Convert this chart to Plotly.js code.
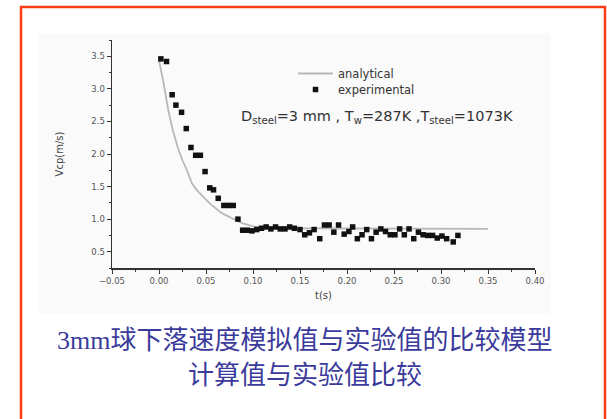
<!DOCTYPE html>
<html>
<head>
<meta charset="utf-8">
<script src="https://cdn.plot.ly/plotly-3.0.1.min.js"></script>
<style>
html,body{margin:0;padding:0;background:#fff;}
#chart{width:607px;height:419px;}
</style>
</head>
<body>
<div id="chart"></div>
<script>
// Analytical model curve
const anaT = [0, 0.005, 0.010, 0.015, 0.020, 0.025, 0.030, 0.035, 0.040, 0.045, 0.050, 0.055, 0.060, 0.065, 0.070, 0.075, 0.080, 0.085, 0.090, 0.095, 0.100, 0.110, 0.120, 0.350];
const anaV = [3.44, 3.08, 2.66, 2.35, 2.10, 1.90, 1.74, 1.55, 1.45, 1.37, 1.30, 1.23, 1.17, 1.11, 1.07, 1.03, 0.99, 0.96, 0.93, 0.91, 0.89, 0.87, 0.86, 0.85];

// Experimental points
const expT = [0.002, 0.008, 0.014, 0.018, 0.024, 0.029, 0.034, 0.039, 0.044, 0.049, 0.054, 0.058, 0.063, 0.069, 0.074, 0.079, 0.084, 0.089, 0.094, 0.099, 0.104, 0.109, 0.114, 0.119, 0.124, 0.129, 0.134, 0.139, 0.144, 0.150, 0.155, 0.160, 0.165, 0.171, 0.176, 0.181, 0.186, 0.191, 0.197, 0.202, 0.206, 0.211, 0.216, 0.221, 0.226, 0.231, 0.236, 0.241, 0.246, 0.251, 0.256, 0.261, 0.266, 0.271, 0.276, 0.281, 0.286, 0.291, 0.296, 0.301, 0.306, 0.313, 0.318];
const expV = [3.46, 3.42, 2.91, 2.75, 2.64, 2.39, 2.10, 1.98, 1.98, 1.73, 1.48, 1.45, 1.32, 1.21, 1.21, 1.21, 1.00, 0.83, 0.83, 0.82, 0.84, 0.86, 0.88, 0.85, 0.88, 0.85, 0.85, 0.88, 0.86, 0.84, 0.76, 0.79, 0.84, 0.70, 0.91, 0.91, 0.80, 0.91, 0.77, 0.81, 0.88, 0.70, 0.76, 0.84, 0.70, 0.80, 0.85, 0.81, 0.76, 0.76, 0.85, 0.76, 0.85, 0.70, 0.80, 0.76, 0.75, 0.75, 0.71, 0.74, 0.70, 0.65, 0.75];

const seriesNames = ['analytical', 'experimental'];
const xTitle = 't(s)';
const yTitle = 'Vcp(m/s)';
const paramText = 'D<sub>steel</sub>=3 mm , T<sub>w</sub>=287K ,T<sub>steel</sub>=1073K';
const caption1 = '3mm球下落速度模拟值与实验值的比较模型';
const caption2 = '计算值与实验值比较';

// plot area in pixels: x 112..535, y 40..268
const L = 112, R = 535, T = 40, B = 268, W = 607, H = 419;
const px = x => (x - L) / (R - L);
const py = y => (B - y) / (B - T);

const sans = 'DejaVu Sans, Verdana, sans-serif';
const tickFont = {family: sans, size: 8.5, color: '#555'};
const legFont = {family: sans, size: 11.5, color: '#333'};

const traces = [
  {x: anaT, y: anaV, name: seriesNames[0], type: 'scatter', mode: 'lines', legend: 'legend',
   line: {color: '#b8b8b8', width: 1.8}},
  {x: expT, y: expV, name: seriesNames[1], type: 'scatter', mode: 'markers', legend: 'legend2',
   marker: {symbol: 'square', size: 5.5, color: '#111'}}
];

const layout = {
  width: W, height: H,
  margin: {l: L, r: W - R, t: T, b: H - B},
  paper_bgcolor: '#ffffff',
  plot_bgcolor: 'rgba(0,0,0,0)',
  showlegend: true,
  legend: {x: px(293), y: py(59), xanchor: 'left', yanchor: 'top',
    bgcolor: 'rgba(0,0,0,0)', itemwidth: 35, font: legFont},
  legend2: {x: px(293), y: py(75), xanchor: 'left', yanchor: 'top',
    bgcolor: 'rgba(0,0,0,0)', itemwidth: 35, font: legFont},
  xaxis: {range: [-0.05, 0.40], dtick: 0.05, tick0: 0, tickformat: '.2f',
    showline: true, linecolor: '#333', linewidth: 1.5, mirror: false,
    showgrid: false, zeroline: false,
    ticks: 'outside', ticklen: 4, tickwidth: 1, tickcolor: '#333',
    minor: {dtick: 0.025, ticks: 'outside', ticklen: 2, tickcolor: '#333', showgrid: false},
    tickfont: tickFont,
    title: {text: xTitle, standoff: 7, font: {family: sans, size: 10, color: '#444'}}},
  yaxis: {range: [0.25, 3.75], dtick: 0.5, tick0: 0.5, tickformat: '.1f',
    showline: true, linecolor: '#333', linewidth: 1.5, mirror: false,
    showgrid: false, zeroline: false,
    ticks: 'outside', ticklen: 4, tickwidth: 1, tickcolor: '#333',
    minor: {dtick: 0.25, ticks: 'outside', ticklen: 2, tickcolor: '#333', showgrid: false},
    tickfont: tickFont,
    title: {text: yTitle, standoff: 26, font: {family: sans, size: 10, color: '#444'}}},
  shapes: [
    {type: 'rect', xref: 'paper', yref: 'paper', layer: 'below',
     x0: px(39), x1: px(551), y0: py(313), y1: py(33),
     fillcolor: '#fafafa', line: {width: 0}},
    {type: 'rect', xref: 'paper', yref: 'paper', layer: 'above',
     x0: px(21), x1: px(605), y0: py(430), y1: py(7),
     fillcolor: 'rgba(0,0,0,0)', line: {color: '#ff3c14', width: 2.5}}
  ],
  annotations: [
    {xref: 'paper', yref: 'paper', x: px(239), y: py(117), xanchor: 'left', yanchor: 'middle',
     text: paramText, showarrow: false,
     font: {family: sans, size: 14.5, color: '#333'}},
    {xref: 'paper', yref: 'paper', x: px(304), y: py(340), xanchor: 'center', yanchor: 'middle',
     text: caption1, showarrow: false,
     font: {family: 'Liberation Serif, Noto Sans CJK SC, serif', size: 26, color: '#3b3b9b'}},
    {xref: 'paper', yref: 'paper', x: px(305), y: py(375), xanchor: 'center', yanchor: 'middle',
     text: caption2, showarrow: false,
     font: {family: 'Liberation Serif, Noto Sans CJK SC, serif', size: 26, color: '#3b3b9b'}}
  ]
};

Plotly.newPlot('chart', traces, layout, {displayModeBar: false, staticPlot: true});
</script>
</body>
</html>
